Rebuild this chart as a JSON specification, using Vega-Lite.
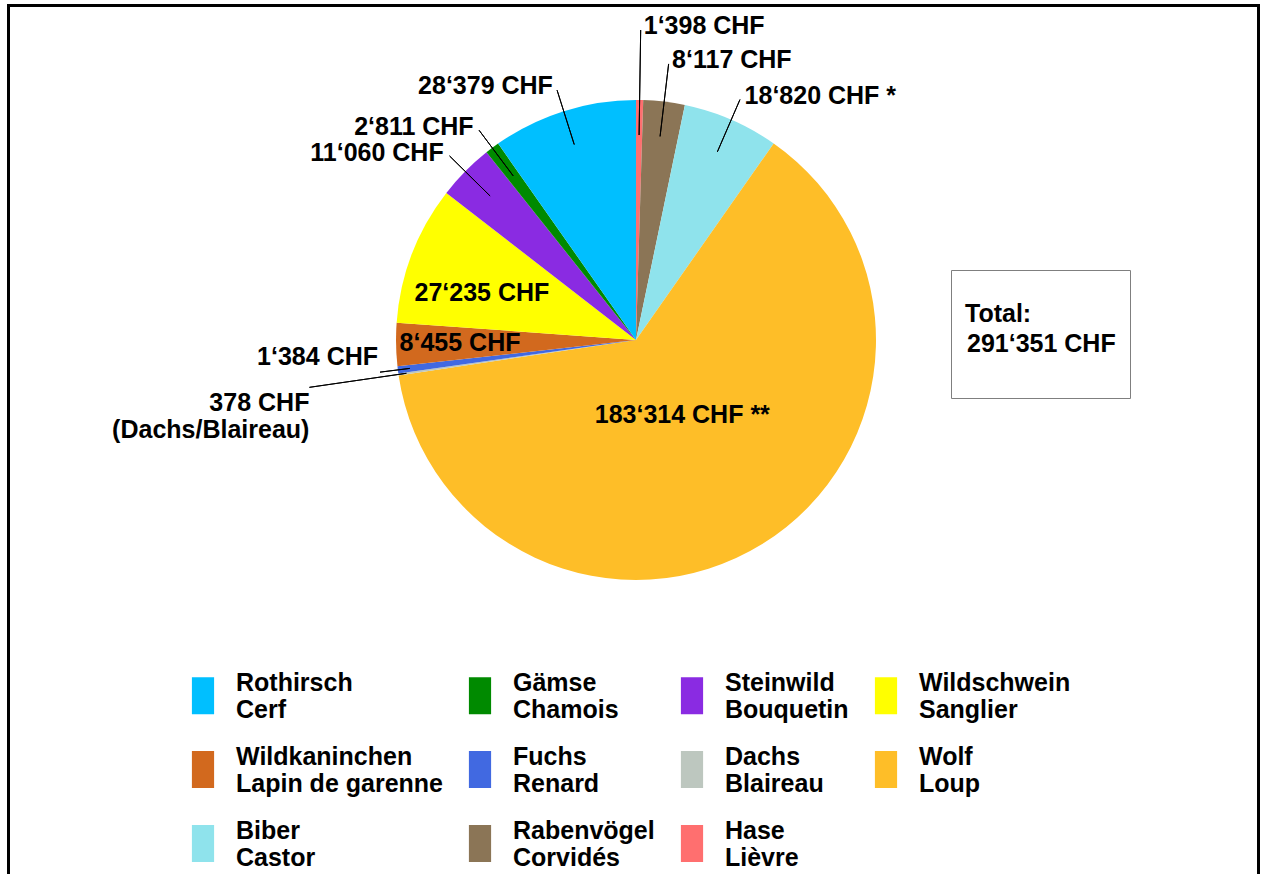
{
  "$schema": "https://vega.github.io/schema/vega-lite/v6.json",
  "width": 1250,
  "height": 870,
  "padding": {"left": 8.5, "top": 5.5, "right": 5.5, "bottom": -1.5},
  "autosize": {"type": "none"},
  "background": "white",
  "config": {"view": {"stroke": "black", "strokeWidth": 3}, "font": "Liberation Sans"},
  "layer": [
    {
      "data": {"values": [
        {"id": "Hase", "species": "Hase / Lièvre", "value": 1398, "order": 1, "label": "1‘398 CHF"},
        {"id": "Rabenvögel", "species": "Rabenvögel / Corvidés", "value": 8117, "order": 2, "label": "8‘117 CHF"},
        {"id": "Biber", "species": "Biber / Castor", "value": 18820, "order": 3, "label": "18‘820 CHF *"},
        {"id": "Wolf", "species": "Wolf / Loup", "value": 183314, "order": 4, "label": "183‘314 CHF **"},
        {"id": "Dachs", "species": "Dachs / Blaireau", "value": 378, "order": 5, "label": "378 CHF\n(Dachs/Blaireau)"},
        {"id": "Fuchs", "species": "Fuchs / Renard", "value": 1384, "order": 6, "label": "1‘384 CHF"},
        {"id": "Wildkaninchen", "species": "Wildkaninchen / Lapin de garenne", "value": 8455, "order": 7, "label": "8‘455 CHF"},
        {"id": "Wildschwein", "species": "Wildschwein / Sanglier", "value": 27235, "order": 8, "label": "27‘235 CHF"},
        {"id": "Steinwild", "species": "Steinwild / Bouquetin", "value": 11060, "order": 9, "label": "11‘060 CHF"},
        {"id": "Gämse", "species": "Gämse / Chamois", "value": 2811, "order": 10, "label": "2‘811 CHF"},
        {"id": "Rothirsch", "species": "Rothirsch / Cerf", "value": 28379, "order": 11, "label": "28‘379 CHF"}
      ]},
      "encoding": {
        "theta": {"field": "value", "type": "quantitative", "stack": true},
        "order": {"field": "order", "type": "quantitative"},
        "detail": {"field": "id", "type": "nominal"},
        "x": {"value": 627.5},
        "y": {"value": 334.5}
      },
      "layer": [
        {
          "mark": {"type": "arc", "outerRadius": 240},
          "encoding": {
            "color": {
              "field": "species", "type": "nominal",
              "scale": {
                "domain": ["Rothirsch / Cerf", "Wildkaninchen / Lapin de garenne", "Biber / Castor", "Gämse / Chamois", "Fuchs / Renard", "Rabenvögel / Corvidés", "Steinwild / Bouquetin", "Dachs / Blaireau", "Hase / Lièvre", "Wildschwein / Sanglier", "Wolf / Loup"],
                "range": ["#00BFFF", "#D2691E", "#8FE3EC", "#008A00", "#4169E1", "#8B7556", "#8A2BE2", "#BDC7BF", "#FF6F6F", "#FFFF00", "#FEBE28"]
              },
              "legend": {
                "orient": "none", "legendX": 176, "legendY": 671.5,
                "columns": 4, "columnPadding": 18, "rowPadding": 21,
                "title": null, "padding": 0,
                "symbolType": "M-0.6,-1L0.6,-1L0.6,1L-0.6,1Z", "symbolSize": 1369, "symbolStrokeWidth": 0, "symbolOpacity": 1,
                "labelOffset": 14.5, "labelFont": "Liberation Sans", "labelFontSize": 25, "labelFontWeight": "bold", "labelColor": "black", "labelLimit": 0,
                "labelBaseline": "bottom",
                "labelExpr": "split(datum.label, ' / ')"
              }
            }
          }
        },
        {
          "mark": {"type": "arc", "filled": false, "stroke": "black", "strokeWidth": 1, "innerRadius": 205, "outerRadius": 262, "padAngle": 3},
          "encoding": {"strokeOpacity": {"condition": {"test": "indexof(['Rothirsch','Gämse','Steinwild','Biber'], datum.id) >= 0", "value": 1}, "value": 0}}
        },
        {
          "mark": {"type": "arc", "filled": false, "stroke": "black", "strokeWidth": 1, "innerRadius": 205, "outerRadius": 278, "padAngle": 3},
          "encoding": {"strokeOpacity": {"condition": {"test": "datum.id == 'Rabenvögel'", "value": 1}, "value": 0}}
        },
        {
          "mark": {"type": "arc", "filled": false, "stroke": "black", "strokeWidth": 1, "innerRadius": 205, "outerRadius": 310, "padAngle": 3},
          "encoding": {"strokeOpacity": {"condition": {"test": "datum.id == 'Hase'", "value": 1}, "value": 0}}
        },
        {
          "mark": {"type": "arc", "filled": false, "stroke": "black", "strokeWidth": 1, "innerRadius": 228, "outerRadius": 258, "padAngle": 3},
          "encoding": {"strokeOpacity": {"condition": {"test": "datum.id == 'Fuchs'", "value": 1}, "value": 0}}
        },
        {
          "mark": {"type": "arc", "filled": false, "stroke": "black", "strokeWidth": 1, "innerRadius": 232, "outerRadius": 330, "padAngle": 3},
          "encoding": {"strokeOpacity": {"condition": {"test": "datum.id == 'Dachs'", "value": 1}, "value": 0}}
        },
        {
          "mark": {"type": "text", "radius": 266, "align": "right", "baseline": "middle", "dx": -3, "font": "Liberation Sans", "fontWeight": "bold", "fontSize": 25, "fill": "black"},
          "encoding": {"text": {"field": "label"}, "opacity": {"condition": {"test": "indexof(['Rothirsch','Gämse','Steinwild'], datum.id) >= 0", "value": 1}, "value": 0}}
        },
        {
          "mark": {"type": "text", "radius": 266, "align": "left", "baseline": "middle", "dx": 3, "font": "Liberation Sans", "fontWeight": "bold", "fontSize": 25, "fill": "black"},
          "encoding": {"text": {"field": "label"}, "opacity": {"condition": {"test": "datum.id == 'Biber'", "value": 1}, "value": 0}}
        },
        {
          "mark": {"type": "text", "radius": 282, "align": "left", "baseline": "middle", "dx": 3, "font": "Liberation Sans", "fontWeight": "bold", "fontSize": 25, "fill": "black"},
          "encoding": {"text": {"field": "label"}, "opacity": {"condition": {"test": "datum.id == 'Rabenvögel'", "value": 1}, "value": 0}}
        },
        {
          "mark": {"type": "text", "radius": 314, "align": "left", "baseline": "middle", "dx": 3, "font": "Liberation Sans", "fontWeight": "bold", "fontSize": 25, "fill": "black"},
          "encoding": {"text": {"field": "label"}, "opacity": {"condition": {"test": "datum.id == 'Hase'", "value": 1}, "value": 0}}
        },
        {
          "mark": {"type": "text", "radius": 258, "align": "right", "baseline": "bottom", "dx": -2, "dy": -2, "font": "Liberation Sans", "fontWeight": "bold", "fontSize": 25, "fill": "black"},
          "encoding": {"text": {"field": "label"}, "opacity": {"condition": {"test": "datum.id == 'Fuchs'", "value": 1}, "value": 0}}
        },
        {
          "mark": {"type": "text", "radius": 330, "align": "right", "baseline": "top", "dy": 4, "lineBreak": "\n", "font": "Liberation Sans", "fontWeight": "bold", "fontSize": 25, "fill": "black"},
          "encoding": {"text": {"field": "label"}, "opacity": {"condition": {"test": "datum.id == 'Dachs'", "value": 1}, "value": 0}}
        },
        {
          "mark": {"type": "text", "radius": 176, "align": "center", "baseline": "middle", "font": "Liberation Sans", "fontWeight": "bold", "fontSize": 25, "fill": "black"},
          "encoding": {"text": {"field": "label"}, "opacity": {"condition": {"test": "datum.id == 'Wildkaninchen'", "value": 1}, "value": 0}}
        },
        {
          "mark": {"type": "text", "radius": 165, "align": "center", "baseline": "middle", "dy": 12, "font": "Liberation Sans", "fontWeight": "bold", "fontSize": 25, "fill": "black"},
          "encoding": {"text": {"field": "label"}, "opacity": {"condition": {"test": "datum.id == 'Wildschwein'", "value": 1}, "value": 0}}
        },
        {
          "mark": {"type": "text", "radius": 88, "align": "center", "baseline": "middle", "font": "Liberation Sans", "fontWeight": "bold", "fontSize": 25, "fill": "black"},
          "encoding": {"text": {"field": "label"}, "opacity": {"condition": {"test": "datum.id == 'Wolf'", "value": 1}, "value": 0}}
        }
      ]
    },
    {
      "data": {"values": [{"total": "291‘351 CHF"}]},
      "mark": {"type": "point", "opacity": 0},
      "encoding": {
        "shape": {
          "field": "total", "type": "nominal",
          "legend": {
            "orient": "none", "legendX": 942.5, "legendY": 264.5,
            "title": ["", "Total:"], "titleLineHeight": 18, "titlePadding": 4,
            "titleFont": "Liberation Sans", "titleFontSize": 25, "titleFontWeight": "bold", "titleColor": "black", "titleLimit": 0,
            "labelFont": "Liberation Sans", "labelFontSize": 25, "labelFontWeight": "bold", "labelColor": "black", "labelLimit": 0,
            "labelOffset": -23, "labelExpr": "[datum.label, '']",
            "symbolSize": 1, "symbolOpacity": 0, "symbolStrokeWidth": 0,
            "padding": 14, "strokeColor": "#7f7f7f"
          }
        }
      }
    }
  ]
}
